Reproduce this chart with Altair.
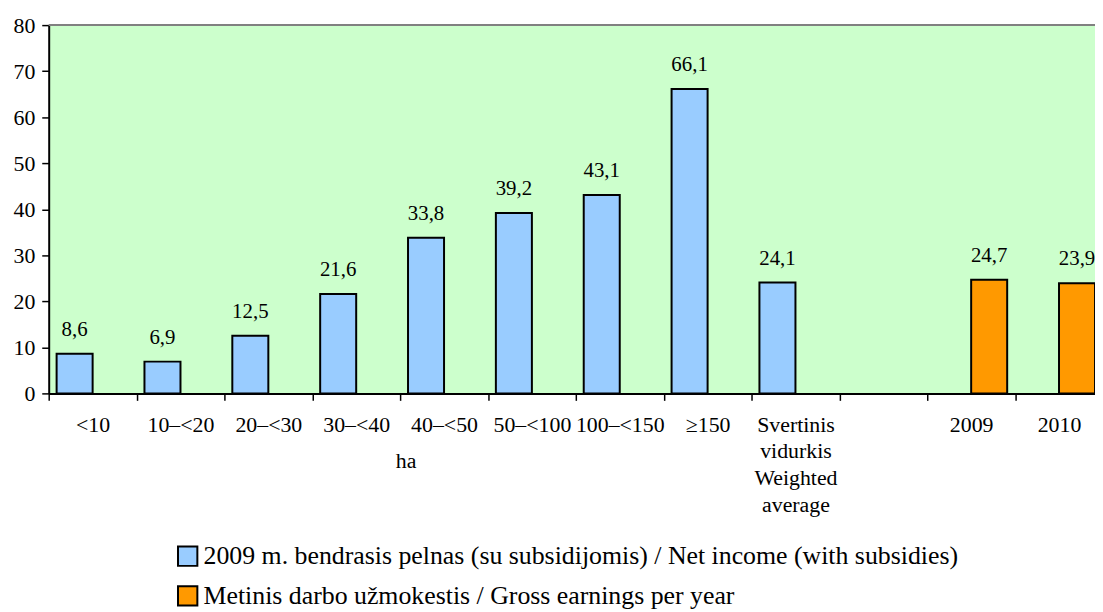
import altair as alt
import pandas as pd

FONT = "Times New Roman, Liberation Serif, serif"

categories = ["<10", "10–<20", "20–<30", "30–<40", "40–<50", "50–<100",
              "100–<150", "≥150", "Svertinis|vidurkis|Weighted|average", " ",
              "2009", "2010"]
income_cats = ["<10", "10–<20", "20–<30", "30–<40", "40–<50", "50–<100",
               "100–<150", "≥150", "Svertinis|vidurkis|Weighted|average"]
income_vals = [8.6, 6.9, 12.5, 21.6, 33.8, 39.2, 43.1, 66.1, 24.1]
earn_cats = ["2009", "2010"]
earn_vals = [24.7, 23.9]
series = ["2009 m. bendrasis pelnas (su subsidijomis) / Net income (with subsidies)",
          "Metinis darbo užmokestis / Gross earnings per year"]
colors = ["#99CCFF", "#FF9900"]
y_ticks = [0, 10, 20, 30, 40, 50, 60, 70, 80]
unit_label = "ha"

rows = []
for c, v in zip(income_cats, income_vals):
    rows.append({"category": c, "series": series[0], "value": v,
                 "label": f"{v:.1f}".replace(".", ",")})
for c, v in zip(earn_cats, earn_vals):
    rows.append({"category": c, "series": series[1], "value": v,
                 "label": f"{v:.1f}".replace(".", ",")})
df = pd.DataFrame(rows)

W = 1062
H = 371
step = W / len(categories)

x_enc = alt.X(
    "category:N",
    sort=categories,
    scale=alt.Scale(domain=categories, paddingInner=0.18, paddingOuter=0.09),
    axis=alt.Axis(
        title=None,
        labelExpr="split(datum.label, '|')",
        bandPosition=0.5,
        tickOffset=-step / 2,
        labelOffset=step / 2,
        tickSize=7,
        tickColor="black",
        tickWidth=1.5,
        domainColor="black",
        domainWidth=2,
        labelFont=FONT,
        labelFontSize=22,
        labelColor="black",
        labelPadding=14,
        labelLineHeight=27,
        labelAngle=0,
        labelOverlap=False,
        labelLimit=300,
        labelBaseline="top",
    ),
)
xoff_enc = alt.XOffset("series:N", scale=alt.Scale(domain=series, paddingInner=0, paddingOuter=0))
y_enc = alt.Y(
    "value:Q",
    scale=alt.Scale(domain=[0, 80], nice=False),
    axis=alt.Axis(
        title=None,
        values=y_ticks,
        grid=False,
        tickSize=7,
        tickColor="black",
        tickWidth=1.5,
        domainColor="black",
        domainWidth=2,
        labelFont=FONT,
        labelFontSize=22,
        labelColor="black",
        labelPadding=7,
    ),
)

base = alt.Chart(df).encode(x=x_enc, xOffset=xoff_enc, y=y_enc)

bars = base.mark_bar(stroke="black", strokeWidth=2).encode(
    color=alt.Color(
        "series:N",
        scale=alt.Scale(domain=series, range=colors),
        legend=alt.Legend(
            title=None,
            orient="none",
            legendX=127,
            legendY=522,
            direction="vertical",
            symbolType="square",
            symbolSize=380,
            symbolStrokeColor="black",
            symbolStrokeWidth=2,
            labelFont=FONT,
            labelFontSize=26,
            labelColor="black",
            labelLimit=1200,
            labelOffset=3,
            rowPadding=12,
            padding=0,
        ),
    )
)

texts = base.mark_text(baseline="alphabetic", dy=-18, font=FONT, fontSize=21,
                       color="black").encode(text="label:N")

top_line = alt.Chart(pd.DataFrame({"top": [80]})).mark_rule(
    color="#808080", strokeWidth=2).encode(y=alt.Y("top:Q"))

unit = alt.Chart(pd.DataFrame({"t": [unit_label]})).mark_text(
    font=FONT, fontSize=22, color="black", baseline="middle", dx=-step / 2 + 6
).encode(x=alt.datum(categories[4]), y=alt.value(439), text="t:N")

chart = alt.layer(top_line, bars, texts, unit).properties(
    width=W, height=H,
    autosize=alt.AutoSizeParams(type="none"),
    padding={"left": 41, "top": 15, "right": -8, "bottom": 220},
).configure_view(fill="#CCFFCC", stroke="transparent")

chart.save("out.html", embed_options={"renderer": "svg", "actions": False})
